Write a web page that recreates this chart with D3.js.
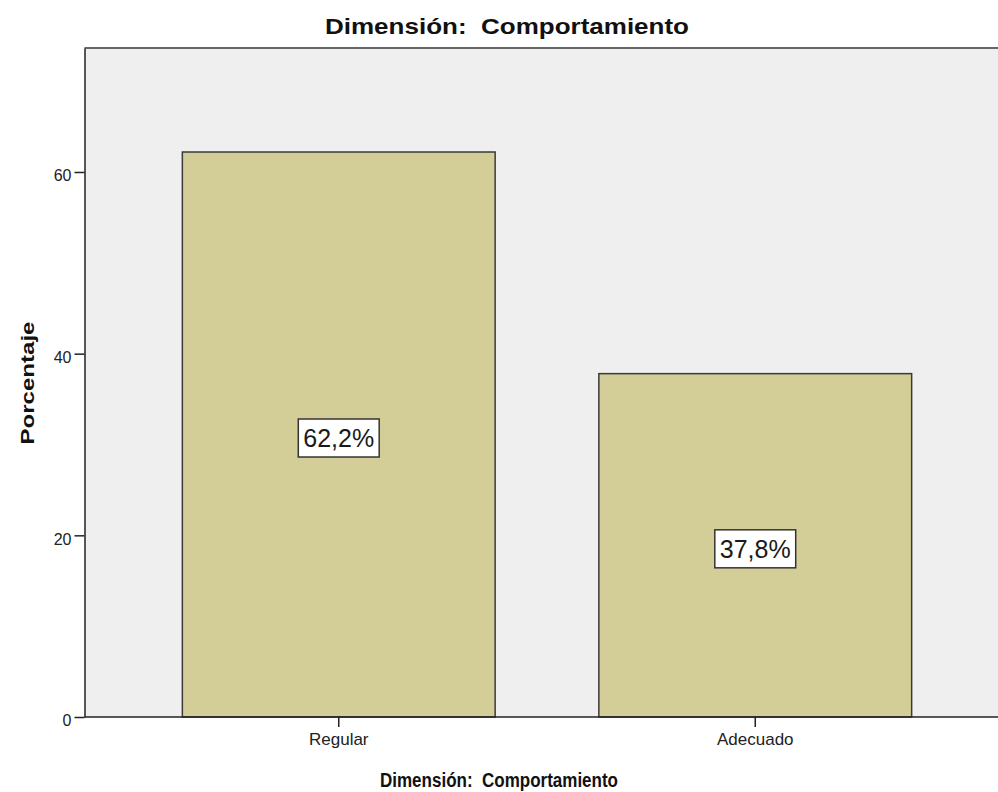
<!DOCTYPE html>
<html><head><meta charset="utf-8">
<script src="https://cdn.jsdelivr.net/npm/d3@7"></script>
<style>body{margin:0;background:#fff}svg{display:block}</style>
</head><body>
<svg id="c" width="998" height="792"></svg>
<script>
const categories = ["Regular", "Adecuado"];
const values = [62.2, 37.8];
const valueLabels = ["62,2%", "37,8%"];
const yTicks = [0, 20, 40, 60];
const title = "Dimensión:\u00a0 Comportamiento";
const xTitle = "Dimensión:\u00a0 Comportamiento";
const yTitle = "Porcentaje";

(function () {
const svg = d3.select("#c");
const pL = 84.5, pT = 48, pB = 717, pR = 1000;
const y = d3.scaleLinear().domain([0, 73.65]).range([pB, pT]);
const x = d3.scaleBand().domain(categories).range([130.5, 963.5]).paddingInner(0.249).paddingOuter(0.1245);

const font = "'Liberation Sans', Arial, sans-serif";

// plot background
svg.append("rect").attr("x", pL).attr("y", pT).attr("width", pR - pL).attr("height", pB - pT)
  .attr("fill", "#efefef");
svg.append("line").attr("x1", pL).attr("x2", pR).attr("y1", pT).attr("y2", pT)
  .attr("stroke", "#666").attr("stroke-width", 2);

// bars
svg.selectAll("rect.bar").data(values).join("rect").attr("class", "bar")
  .attr("x", (d, i) => x(categories[i]))
  .attr("width", x.bandwidth())
  .attr("y", d => y(d))
  .attr("height", d => y(0) - y(d))
  .attr("fill", "#d3ce97").attr("stroke", "#3a3a3a").attr("stroke-width", 1.5);

// axes
const ya = d3.axisLeft(y).tickValues(yTicks).tickSize(10).tickSizeOuter(0).tickPadding(3).tickFormat(d3.format("d"));
const yg = svg.append("g").attr("transform", `translate(${pL},0)`).call(ya);
yg.select(".domain").attr("stroke", "#222").attr("stroke-width", 1.5);
yg.selectAll(".tick line").attr("stroke", "#222").attr("stroke-width", 1.5);
yg.selectAll(".tick text").attr("font-family", font).attr("font-size", 16).attr("fill", "#222").attr("dy", "0.68em").attr("y", -2);

const xa = d3.axisBottom(x).tickSize(10).tickSizeOuter(0).tickPadding(6);
const xg = svg.append("g").attr("transform", `translate(0,${pB})`).call(xa);
xg.select(".domain").remove();
xg.append("line").attr("x1", pL).attr("x2", pR).attr("y1", 0).attr("y2", 0).attr("stroke", "#222").attr("stroke-width", 1.5);
xg.selectAll(".tick line").attr("stroke", "#222").attr("stroke-width", 1.5);
xg.selectAll(".tick text").attr("font-family", font).attr("font-size", 17).attr("fill", "#222");

// value labels
values.forEach((v, i) => {
  const cx = x(categories[i]) + x.bandwidth() / 2;
  const cy = y(v / 2) + 3.5;
  const g = svg.append("g");
  const t = g.append("text").attr("x", cx).attr("y", cy).attr("text-anchor", "middle")
    .attr("dominant-baseline", "central").attr("font-family", font).attr("font-size", 25)
    .attr("fill", "#1a1a1a").text(valueLabels[i]);
  const w = t.node().getComputedTextLength() + 10;
  g.insert("rect", "text").attr("x", cx - w / 2).attr("y", cy - 19).attr("width", w).attr("height", 38)
    .attr("fill", "#fff").attr("stroke", "#333").attr("stroke-width", 1.5);
});

// titles
svg.append("text").attr("x", 507).attr("y", 34).attr("text-anchor", "middle")
  .attr("font-family", font).attr("font-size", 22).attr("font-weight", "bold").attr("fill", "#111")
  .attr("textLength", 364).attr("lengthAdjust", "spacingAndGlyphs").text(title);
svg.append("text").attr("x", 499).attr("y", 787).attr("text-anchor", "middle")
  .attr("font-family", font).attr("font-size", 20).attr("font-weight", "bold").attr("fill", "#111")
  .attr("textLength", 238).attr("lengthAdjust", "spacingAndGlyphs").text(xTitle);
svg.append("text").attr("transform", "translate(34,383) rotate(-90)").attr("text-anchor", "middle")
  .attr("font-family", font).attr("font-size", 19).attr("font-weight", "bold").attr("fill", "#111")
  .attr("textLength", 123).attr("lengthAdjust", "spacingAndGlyphs").text(yTitle);
})();
</script>
</body></html>
